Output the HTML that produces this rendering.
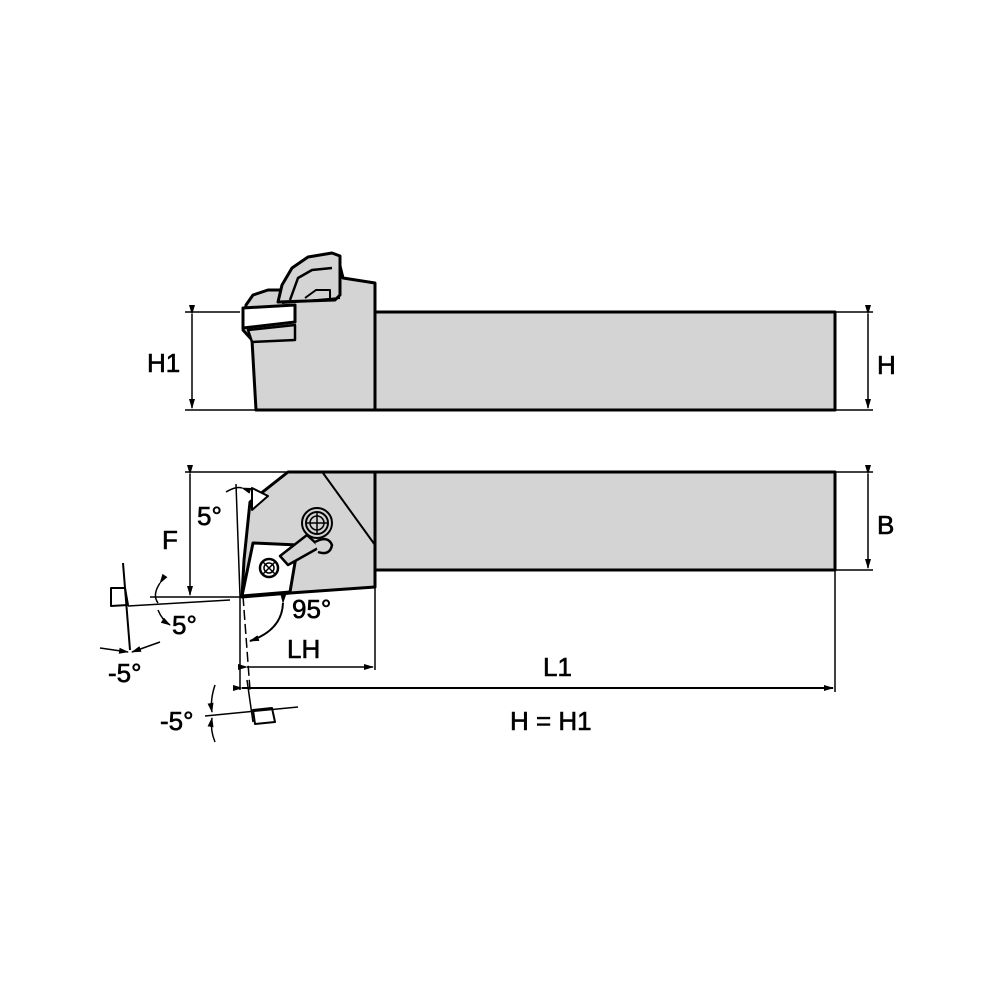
<!DOCTYPE html>
<html><head><style>html,body{margin:0;padding:0;background:#fff}svg{display:block}</style></head><body>
<svg width="1000" height="1000" viewBox="0 0 1000 1000" xmlns="http://www.w3.org/2000/svg" font-family="Liberation Sans, Arial, sans-serif">
<defs>
<marker id="a" markerWidth="10" markerHeight="8" refX="9" refY="4" orient="auto" markerUnits="userSpaceOnUse"><path d="M0,1 L10,4 L0,7 z" fill="#000"/></marker>
</defs>
<g stroke="#000" stroke-linejoin="round">
<!-- TOP VIEW -->
<rect x="375" y="312" width="460" height="98" fill="#d4d4d4" stroke-width="3"/>
<path d="M256,410 L375,410 L375,283 L343,278 L338,258 L330,255 L310,258 L292,270 L282,290 L268,290 L253,295 L246,305 L243,330 L252,340 Z" fill="#d4d4d4" stroke-width="3"/>
<path d="M243,308 L295,305 L295,322 L243,328 Z" fill="#fff" stroke-width="3"/>
<path d="M248,330 L295,325 L295,340 L252,342 Z" fill="#d4d4d4" stroke-width="2.5"/>
<path d="M278,302 L282,285 L292,268 L308,257 L332,253 L340,256 L340,295 L335,300 Z" fill="#d4d4d4" stroke-width="3"/>
<path d="M290,300 L298,278 L312,270 L332,268" fill="none" stroke-width="2.5"/>
<path d="M305,298 L316,290 L330,290 L330,298" fill="none" stroke-width="2"/>
<line x1="282" y1="303" x2="340" y2="298" stroke-width="2"/>
<!-- top dims -->
<line x1="185" y1="312" x2="240" y2="312" stroke-width="1.5"/>
<line x1="185" y1="410" x2="256" y2="410" stroke-width="1.5"/>
<line x1="192" y1="314" x2="192" y2="408" stroke-width="1.5" marker-start="url(#a)" marker-end="url(#a)"/>
<line x1="835" y1="312" x2="873" y2="312" stroke-width="1.5"/>
<line x1="835" y1="410" x2="873" y2="410" stroke-width="1.5"/>
<line x1="868" y1="314" x2="868" y2="408" stroke-width="1.5" marker-start="url(#a)" marker-end="url(#a)"/>
<!-- BOTTOM VIEW -->
<rect x="375" y="472" width="460" height="98" fill="#d4d4d4" stroke-width="3"/>
<path d="M288,472 L375,472 L375,587 L290,593 L242,597 L244,560 L250,502 Z" fill="#d4d4d4" stroke-width="3"/>
<line x1="323" y1="473" x2="375" y2="545" stroke-width="2"/>
<path d="M253,543 L298,545 L290,592 L242,596 Z" fill="#fff" stroke-width="3"/>
<line x1="247" y1="596" x2="290" y2="593" stroke-width="3"/>
<circle cx="317" cy="523" r="15" fill="#d4d4d4" stroke-width="2"/>
<path d="M288,565 L280,556 L307,535 L320,547 Z" fill="#d4d4d4" stroke-width="2.5"/>
<path d="M315,542 Q328,535 332,545 Q330,556 318,552" fill="#d4d4d4" stroke-width="2.5"/>
<circle cx="317" cy="523" r="11" fill="#d4d4d4" stroke-width="2"/>
<circle cx="317" cy="523" r="7" fill="none" stroke-width="1.5"/>
<line x1="306" y1="523" x2="328" y2="523" stroke-width="1.5"/><line x1="317" y1="512" x2="317" y2="534" stroke-width="1.5"/>
<circle cx="269" cy="568" r="9" fill="#fff" stroke-width="2.5"/>
<circle cx="269" cy="568" r="5" fill="none" stroke-width="1.5"/>
<line x1="263" y1="562" x2="275" y2="574" stroke-width="1.5"/><line x1="275" y1="562" x2="263" y2="574" stroke-width="1.5"/>
<path d="M252,488 L252,510 L268,496 Z" fill="#fff" stroke-width="2"/>
<!-- bottom dims -->
<line x1="185" y1="472" x2="288" y2="472" stroke-width="1.5"/>
<line x1="190" y1="474" x2="190" y2="595" stroke-width="1.5" marker-start="url(#a)" marker-end="url(#a)"/>
<line x1="150" y1="597" x2="245" y2="597" stroke-width="1.5"/>
<line x1="128" y1="606" x2="230" y2="600" stroke-width="1.5"/>
<line x1="236" y1="484" x2="240" y2="596" stroke-width="1.5"/>
<line x1="240" y1="596" x2="240" y2="690" stroke-width="1.5"/>
<line x1="243" y1="596" x2="250" y2="690" stroke-width="1.5" stroke-dasharray="10,4"/>
<line x1="835" y1="472" x2="873" y2="472" stroke-width="1.5"/>
<line x1="835" y1="570" x2="873" y2="570" stroke-width="1.5"/>
<line x1="868" y1="474" x2="868" y2="568" stroke-width="1.5" marker-start="url(#a)" marker-end="url(#a)"/>
<line x1="835" y1="570" x2="835" y2="692" stroke-width="1.5"/>
<line x1="375" y1="588" x2="375" y2="670" stroke-width="1.5"/>
<line x1="247" y1="667" x2="373" y2="667" stroke-width="1.5" marker-start="url(#a)" marker-end="url(#a)"/>
<line x1="242" y1="688" x2="833" y2="688" stroke-width="2" marker-start="url(#a)" marker-end="url(#a)"/>
<!-- angle arcs -->
<path d="M242,488 Q236,486 226,492" fill="none" stroke-width="1.5" marker-start="url(#a)"/>
<path d="M283,603 Q282,630 250,641" fill="none" stroke-width="2" marker-start="url(#a)" marker-end="url(#a)"/>
<path d="M160,583 Q152,595 158,603" fill="none" stroke-width="1.5" marker-start="url(#a)"/>
<path d="M158,610 Q162,620 170,625" fill="none" stroke-width="1.5" marker-end="url(#a)"/>
<!-- small squares left -->
<path d="M111,588 L125,588 L128,605 L111,606 Z" fill="#fff" stroke-width="2"/>
<line x1="123" y1="563" x2="130" y2="650" stroke-width="2"/>
<line x1="100" y1="648" x2="128" y2="652" stroke-width="1.5" marker-end="url(#a)"/>
<line x1="160" y1="642" x2="132" y2="652" stroke-width="1.5" marker-end="url(#a)"/>
<!-- small square bottom -->
<path d="M253,710 L272,708 L275,722 L255,724 Z" fill="#fff" stroke-width="2"/>
<line x1="205" y1="716" x2="298" y2="707" stroke-width="1.5"/>
<line x1="247" y1="680" x2="253" y2="722" stroke-width="1.5"/>
<path d="M215,685 Q210,700 212,712" fill="none" stroke-width="1.5" marker-end="url(#a)"/>
<path d="M215,742 Q210,730 212,718" fill="none" stroke-width="1.5" marker-end="url(#a)"/>
</g>
<g font-size="26" fill="#000" stroke="#000" stroke-width="0.6">
<text x="147" y="372">H1</text>
<text x="877" y="374">H</text>
<text x="877" y="534">B</text>
<text x="162" y="549">F</text>
<text x="197" y="525">5°</text>
<text x="172" y="634">5°</text>
<text x="292" y="618">95°</text>
<text x="287" y="658">LH</text>
<text x="543" y="676">L1</text>
<text x="510" y="730">H = H1</text>
<text x="108" y="682">-5°</text>
<text x="160" y="730">-5°</text>
</g>
</svg>
</body></html>
